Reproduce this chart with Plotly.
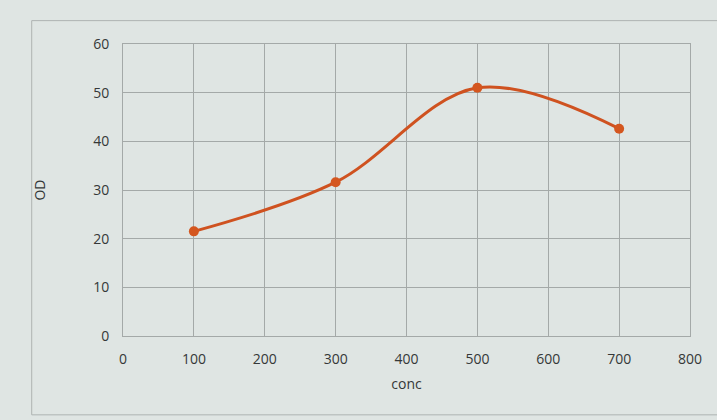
import plotly.graph_objects as go

# Concentration vs optical density
conc = [100, 300, 500, 700]
od = [21.5, 31.6, 51.0, 42.6]

x_ticks = [0, 100, 200, 300, 400, 500, 600, 700, 800]
y_ticks = [0, 10, 20, 30, 40, 50, 60]

fig = go.Figure()
fig.add_trace(go.Scatter(
    x=conc, y=od,
    mode="lines+markers",
    line=dict(color="#cf5220", width=3, shape="spline", smoothing=1.0),
    marker=dict(color="#d4561f", size=10),
    showlegend=False,
))

grid = "#a4a9a8"
font = dict(family="Open Sans, Noto Sans, sans-serif", size=14, color="#353838")

fig.update_layout(
    width=717, height=420,
    margin=dict(l=123, r=27, t=44, b=84),
    paper_bgcolor="#dfe5e3",
    plot_bgcolor="#dfe5e3",
    font=font,
    xaxis=dict(
        range=[0, 800], tickvals=x_ticks, ticktext=[str(v) for v in x_ticks],
        showgrid=True, gridcolor=grid, gridwidth=1,
        showline=True, linecolor=grid, mirror=True, zeroline=False,
        ticks="", ticklabelstandoff=10,
        title=dict(text="conc", standoff=12, font=font),
    ),
    yaxis=dict(
        range=[0, 60], tickvals=y_ticks, ticktext=[str(v) for v in y_ticks],
        showgrid=True, gridcolor=grid, gridwidth=1,
        showline=True, linecolor=grid, mirror=True, zeroline=False,
        ticks="", ticklabelstandoff=10,
        title=dict(text="OD", standoff=44, font=font),
    ),
    shapes=[dict(
        type="rect", xref="paper", yref="paper",
        x0=-0.161, x1=1.08, y0=-0.27, y1=1.08,
        line=dict(color="#aeb3b2", width=1), fillcolor="rgba(0,0,0,0)",
        layer="below",
    )],
)

fig.write_html("out.html")
